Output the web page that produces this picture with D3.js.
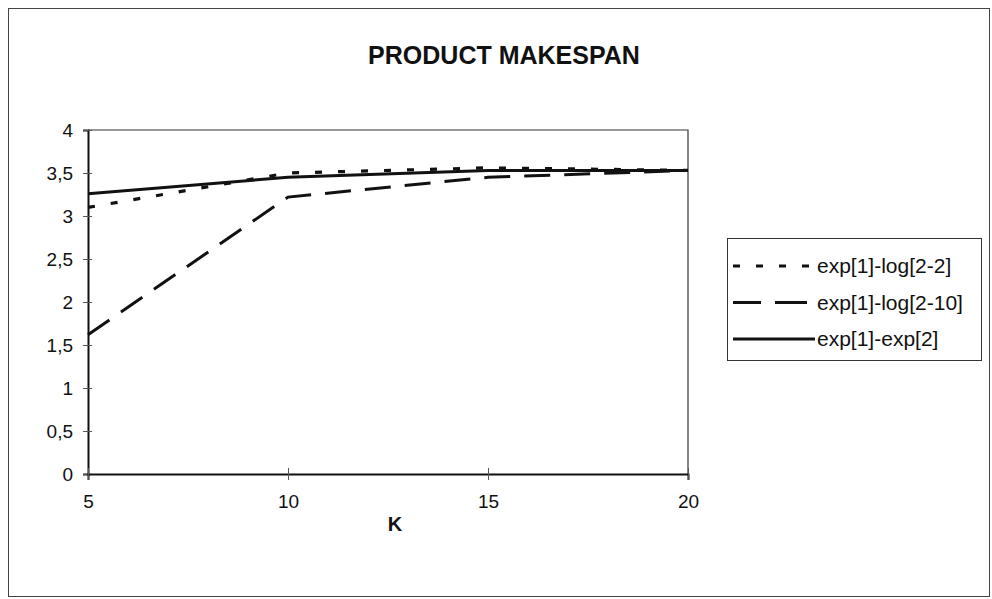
<!DOCTYPE html>
<html>
<head>
<meta charset="utf-8">
<script src="https://cdn.jsdelivr.net/npm/d3@7"></script>
<style>
  body { margin: 0; background: #fff; }
  text { font-family: "Liberation Sans", Arial, sans-serif; fill: #111; }
</style>
</head>
<body>
<svg id="chart" width="992" height="599"></svg>
<script>
// chart values
var kValues = [5, 10, 15, 20];
var seriesNames = ["exp[1]-log[2-2]", "exp[1]-log[2-10]", "exp[1]-exp[2]"];
var logLowValues = [3.1, 3.5, 3.56, 3.53];
var logHighValues = [1.62, 3.22, 3.45, 3.53];
var expExpValues = [3.26, 3.45, 3.53, 3.53];
var yTicks = [0, 0.5, 1, 1.5, 2, 2.5, 3, 3.5, 4];
var xTicks = [5, 10, 15, 20];

var seriesStyles = [
	{dash: "7,16", legendDash: "7,16", width: 3.2},
	{dash: "26,14", legendDash: "28,14,32,100", width: 3},
	{dash: null, legendDash: null, width: 3}
];

var series = [logLowValues, logHighValues, expExpValues].map(function (vals, i) {
	return {
		name: seriesNames[i],
		style: seriesStyles[i],
		points: vals.map(function (v, j) { return {k: kValues[j], v: v}; })
	};
});

var svg = d3.select("#chart");

// outer frame
svg.append("rect")
	.attr("x", 8.5).attr("y", 8.5)
	.attr("width", 981).attr("height", 588)
	.attr("fill", "none").attr("stroke", "#444").attr("stroke-width", 1);

svg.append("text")
	.attr("x", 504).attr("y", 64)
	.attr("text-anchor", "middle")
	.style("font-size", "25px").style("font-weight", "bold")
	.text("PRODUCT MAKESPAN");

var x = d3.scaleLinear().domain([5, 20]).range([88, 688]);
var y = d3.scaleLinear().domain([0, 4]).range([474, 130]);

// plot box top/right
svg.append("path")
	.attr("d", "M" + x(5) + "," + y(4) + "H" + x(20) + "V" + y(0))
	.attr("fill", "none").attr("stroke", "#333").attr("stroke-width", 1.2);

var fmt = function (d) { return String(d).replace(".", ","); };

var yAxis = svg.append("g")
	.attr("transform", "translate(" + x(5) + ",0)")
	.call(d3.axisLeft(y).tickValues(yTicks).tickFormat(fmt).tickSize(5).tickPadding(10));
yAxis.select(".domain").attr("stroke", "#111").attr("stroke-width", 2);
yAxis.selectAll(".tick line").attr("x1", 4).attr("stroke", "#555");
yAxis.selectAll(".tick text").style("font-size", "19px").attr("fill", "#111");

var xAxis = svg.append("g")
	.attr("transform", "translate(0," + y(0) + ")")
	.call(d3.axisBottom(x).tickValues(xTicks).tickFormat(fmt).tickSize(6).tickPadding(15));
xAxis.select(".domain").attr("stroke", "#111").attr("stroke-width", 2);
xAxis.selectAll(".tick line").attr("y1", -6).attr("stroke", "#555");
xAxis.selectAll(".tick text").style("font-size", "19px").attr("fill", "#111");

svg.append("text")
	.attr("x", 395).attr("y", 531)
	.attr("text-anchor", "middle")
	.style("font-size", "20px").style("font-weight", "bold")
	.text("K");

var line = d3.line()
	.x(function (d) { return x(d.k); })
	.y(function (d) { return y(d.v); });

svg.append("g").selectAll("path")
	.data(series)
	.enter().append("path")
	.attr("d", function (d) { return line(d.points); })
	.attr("fill", "none")
	.attr("stroke", "#111")
	.attr("stroke-width", function (d) { return d.style.width; })
	.attr("stroke-dasharray", function (d) { return d.style.dash; });

// legend
var legend = svg.append("g").attr("transform", "translate(727,238)");
legend.append("rect")
	.attr("x", 0.5).attr("y", 0.5).attr("width", 254).attr("height", 122)
	.attr("fill", "#fff").attr("stroke", "#333").attr("stroke-width", 1);

var items = legend.selectAll(".item")
	.data(series)
	.enter().append("g")
	.attr("class", "item")
	.attr("transform", function (d, i) { return "translate(0," + (28 + i * 36.5) + ")"; });

items.append("line")
	.attr("x1", 6).attr("x2", 88)
	.attr("stroke", "#111")
	.attr("stroke-width", function (d) { return d.style.width; })
	.attr("stroke-dasharray", function (d) { return d.style.legendDash; });

items.append("text")
	.attr("x", 90).attr("dy", "0.35em")
	.style("font-size", "21px")
	.text(function (d) { return d.name; });
</script>
</body>
</html>
